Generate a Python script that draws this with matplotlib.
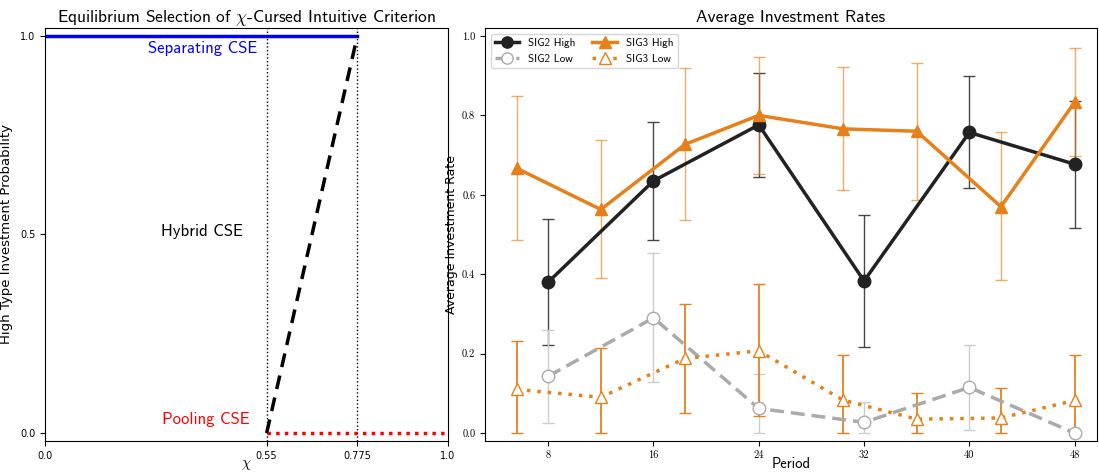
import numpy as np
import matplotlib
matplotlib.use("Agg")
import matplotlib.pyplot as plt

plt.rcParams['mathtext.fontset'] = 'cm'

# left panel data
chi_ticks = [0.0, 0.55, 0.775, 1.0]
chi_low = 0.55
chi_high = 0.775

# right panel data
periods2 = [8, 16, 24, 32, 40, 48]
sig2_high = [0.380, 0.635, 0.776, 0.383, 0.757, 0.677]
sig2_high_lo = [0.221, 0.485, 0.645, 0.217, 0.617, 0.517]
sig2_high_hi = [0.540, 0.784, 0.907, 0.549, 0.898, 0.837]
sig2_low = [0.143, 0.290, 0.062, 0.027, 0.115, 0.000]
sig2_low_lo = [0.025, 0.128, 0.000, 0.000, 0.007, 0.000]
sig2_low_hi = [0.260, 0.453, 0.148, 0.078, 0.222, 0.000]

periods3 = [5.6, 12, 18.4, 24, 30.4, 36, 42.4, 48]
sig3_high = [0.667, 0.563, 0.727, 0.800, 0.766, 0.760, 0.570, 0.833]
sig3_high_lo = [0.486, 0.390, 0.537, 0.652, 0.612, 0.588, 0.386, 0.697]
sig3_high_hi = [0.848, 0.737, 0.920, 0.946, 0.922, 0.932, 0.757, 0.970]
sig3_low = [0.110, 0.090, 0.188, 0.207, 0.083, 0.035, 0.038, 0.082]
sig3_low_lo = [0.000, 0.000, 0.050, 0.043, 0.000, 0.000, 0.000, 0.000]
sig3_low_hi = [0.232, 0.213, 0.326, 0.375, 0.197, 0.102, 0.114, 0.197]

orange = '#e8801a'

fig = plt.figure(figsize=(10.99, 4.72), dpi=100)
ax1 = fig.add_axes([45/1099, 1-441/472, 403/1099, 413/472])
ax2 = fig.add_axes([485/1099, 1-441/472, 612/1099, 413/472])

#left panel
ax1.plot([0, chi_high], [1, 1], color='blue', lw=2.5)
ax1.plot([chi_low, chi_high], [0, 1], color='black', lw=2.5, ls=(0, (4, 2.5)))
ax1.plot([chi_low, 1], [0, 0], color='red', lw=2.5, ls=(0, (1, 1.5)))
ax1.axvline(chi_low, color='black', lw=1, ls=':')
ax1.axvline(chi_high, color='black', lw=1, ls=':')
ax1.text(0.39, 0.968, 'Separating CSE', color='blue', fontsize=12, family='cmss10', ha='center', va='center')
ax1.text(0.39, 0.508, 'Hybrid CSE', color='black', fontsize=12, family='cmss10', ha='center', va='center')
ax1.text(0.40, 0.033, 'Pooling CSE', color='red', fontsize=12, family='cmss10', ha='center', va='center')
ax1.set_xlim(0, 1)
ax1.set_ylim(-0.02, 1.02)
ax1.set_xticks(chi_ticks)
ax1.set_xticklabels(['0.0', '0.55', '0.775', '1.0'])
ax1.set_yticks([0.0, 0.5, 1.0])
ax1.tick_params(labelsize=7)
ax1.set_xlabel(r'$\chi$', fontsize=10.5)
ax1.xaxis.set_label_coords(0.5, -0.038)
ax1.set_ylabel('High Type Investment Probability', fontsize=9.5, labelpad=5)
ax1.set_title(r'Equilibrium Selection of $\chi$-Cursed Intuitive Criterion', family='cmss10', fontsize=12.5, pad=4)

#right panel
def err(v, lo, hi):
    v = np.array(v); return [v - np.array(lo), np.array(hi) - v]

ax2.errorbar(periods2, sig2_high, yerr=err(sig2_high, sig2_high_lo, sig2_high_hi), fmt='none',
             ecolor='#333333', elinewidth=1, capsize=4, alpha=0.9)
ax2.errorbar(periods2, sig2_low, yerr=err(sig2_low, sig2_low_lo, sig2_low_hi), fmt='none',
             ecolor='#cccccc', elinewidth=1, capsize=4)
ax2.errorbar(periods3, sig3_high, yerr=err(sig3_high, sig3_high_lo, sig3_high_hi), fmt='none',
             ecolor=orange, elinewidth=1, capsize=4, alpha=0.65)
ax2.errorbar(periods3, sig3_low, yerr=err(sig3_low, sig3_low_lo, sig3_low_hi), fmt='none',
             ecolor=orange, elinewidth=1.3, capsize=4)

ax2.plot(periods2, sig2_high, color='#222222', lw=2.5, marker='o', ms=9, label='SIG2 High')
ax2.plot(periods2, sig2_low, color='#aaaaaa', lw=2.5, ls=(0, (4, 2)), marker='o', ms=9,
         mfc='white', mec='#aaaaaa', label='SIG2 Low')
ax2.plot(periods3, sig3_high, color=orange, lw=2.5, marker='^', ms=9, label='SIG3 High')
ax2.plot(periods3, sig3_low, color=orange, lw=2.5, ls=(0, (1, 2)), marker='^', ms=9,
         mfc='white', mec=orange, label='SIG3 Low')

ax2.set_xlim(3.2, 49.7)
ax2.set_ylim(-0.02, 1.02)
ax2.set_xticks(periods2)
ax2.set_yticks([0.0, 0.2, 0.4, 0.6, 0.8, 1.0])
for lab in ax2.get_xticklabels() + ax2.get_yticklabels():
    lab.set_family('cmr10')
ax2.tick_params(labelsize=7.5)
ax2.set_xlabel('Period', family='cmss10', fontsize=10.5)
ax2.xaxis.set_label_coords(0.5, -0.038)
ax2.set_ylabel('Average Investment Rate', fontsize=9, labelpad=3)
ax2.set_title('Average Investment Rates', family='cmss10', fontsize=12.5, pad=4)
ax2.legend(loc='upper left', ncol=2, prop={'family': 'cmss10', 'size': 8}, markerscale=0.9,
           handlelength=2.2, columnspacing=1.5)

fig.savefig('out.png', dpi=100)
